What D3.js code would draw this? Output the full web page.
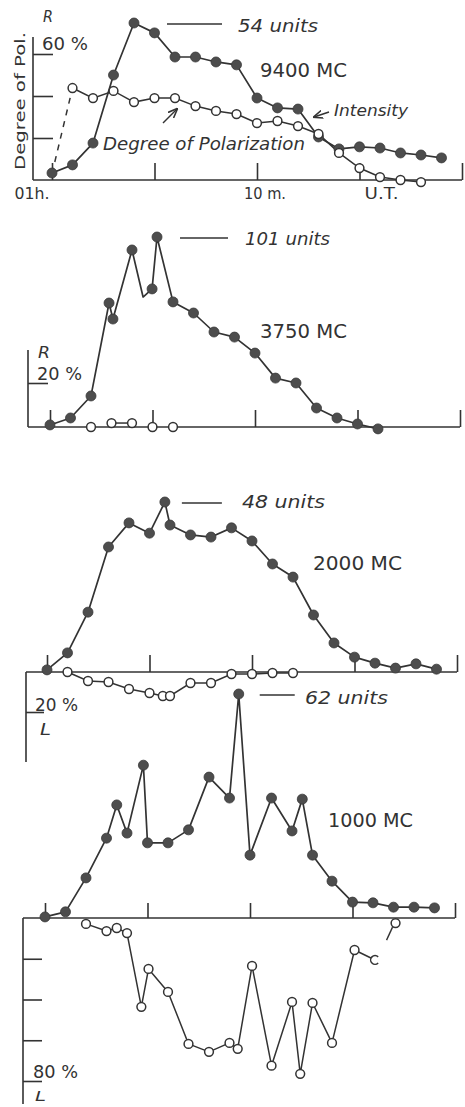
<!DOCTYPE html>
<html><head><meta charset="utf-8">
<script src="https://cdn.jsdelivr.net/npm/d3@7/dist/d3.min.js"></script>
<style>html,body{margin:0;padding:0;background:#fff;} svg{display:block;}</style>
</head><body>
<script>
// ---------- DATA ----------
const timeTicks = [0, 5, 10, 15, 20];              // minutes after 01h UT
const xTickLabels = ["01h.", "10 m.", "U.T."];
const xTickLabelTimes = [0, 10, 15];

// 9400 MC
const t9400I = [0,1,2,3,4,5,6,7,8,9,10,11,12,13,14,15,16,17,18,19];
const v9400I = [2.4,5.2,12.7,36.1,54,50.6,42.3,42.3,40.6,39.6,28.2,24.8,24.4,14.8,10.7,11.4,11.0,9.3,8.6,7.6];
const t9400P = [0,1,2,3,4,5,6,7,8,9,10,11,12,13,14,15,16,17,18];
const v9400P = [3,43.8,39.0,42.4,37.1,39.0,39.0,35.2,32.9,31.4,27.1,28.1,25.7,21.9,12.9,5.7,1.4,0,-1.0];

// 3750 MC
const t3750I = [0,1,2,2.88,3.07,4,4.54,4.98,5.22,6,7,8,9,10,11,12,13,14,15,16];
const v3750I = [1.1,4.8,16.5,65.9,57.4,94.1,69.1,73.4,101,66.5,60.6,50.5,47.8,39.3,26.0,23.4,10.1,4.8,1.6,-1.0];
const t3750NoDot = [4.54];
const t3750P = [2,3,4,5,6];
const v3750P = [0,1.8,1.8,0,0];
const p3750Links = [[3,4]];

// 2000 MC
const t2000I = [0,1,2,3,4,5,5.75,6,7,8,9,10,11,12,13,14,15,16,17,18,19];
const v2000I = [0.6,5.4,16.9,35.3,42.1,39.2,48,41.5,38.7,38.1,40.7,37.0,30.5,26.8,16.1,8.2,4.2,2.5,1.1,2.3,0.8];
const t2000P = [1,2,3,4,5,5.65,6,7,8,9,10,11,12];
const v2000P = [0,-4.5,-5,-8.5,-10.5,-12,-12,-5.5,-5.5,-1,-1,-0.5,-0.5];

// 1000 MC
const t1000I = [0,1,2,3,3.5,4,4.8,5,6,7,8,9,9.45,10,11.05,12.05,12.55,13.05,14,15,16,17,18,19];
const v1000I = [0.3,1.7,11.1,22.1,31.3,23.5,42.3,20.8,20.8,24.4,39.0,33.2,62,17.4,33.2,24.1,32.9,17.4,10.2,4.4,4.2,3.0,3.0,2.8];
const t1000P = [2,3,3.5,4,4.7,5.05,6,7,8,9,9.4,10.1,11.05,12.05,12.45,13.05,14,15.1,16.1];
const v1000P = [-2.9,-6.4,-4.9,-7.4,-43.6,-25,-36.3,-61.8,-65.7,-61.3,-64.2,-23.5,-72.5,-41.2,-76.5,-41.7,-61.3,-15.7,-20.6];
const t1000Pextra = [17.1];
const v1000Pextra = [-2.5];

const peakUnits = [54, 101, 48, 62];
const freqLabels = ["9400 MC", "3750 MC", "2000 MC", "1000 MC"];

// ---------- DRAWING ----------
const W = 465, H = 1107;
const ink = "#333";
const dotFill = "#4d4d4d";
const FONT = "DejaVu Sans, Liberation Sans, sans-serif";

const svg = d3.select("body").append("svg").attr("width", W).attr("height", H);
svg.append("rect").attr("width", W).attr("height", H).attr("fill", "#fff");

const defs = svg.append("defs");
defs.append("marker").attr("id","arr").attr("viewBox","0 0 10 10").attr("refX",9).attr("refY",5)
  .attr("markerWidth",7).attr("markerHeight",7).attr("orient","auto-start-reverse")
  .append("path").attr("d","M0,1 L10,5 L0,9").attr("fill","none").attr("stroke",ink).attr("stroke-width",1.6);

function txt(s, x, y, size, len, italic, g) {
  const t = (g || svg).append("text").attr("x", x).attr("y", y).text(s)
    .attr("font-family", FONT).attr("font-size", size).attr("fill", ink);
  if (len) t.attr("textLength", len).attr("lengthAdjust", "spacingAndGlyphs");
  if (italic) t.attr("font-style", "italic");
  return t;
}

const lineGen = (x, y) => d3.line().x(d => x(d[0])).y(d => y(d[1]));

function panel(cfg) {
  const g = svg.append("g");
  const x = d3.scaleLinear().domain([0, 20]).range([cfg.x0, cfg.x0 + 410]);
  const yI = d3.scaleLinear().domain([0, cfg.peak]).range([cfg.base, cfg.peakY]);
  const yP = d3.scaleLinear().domain([0, cfg.pRef]).range([cfg.base, cfg.base - cfg.pPix]);

  g.append("line").attr("x1", cfg.axisX).attr("x2", x(20)).attr("y1", cfg.base).attr("y2", cfg.base)
    .attr("stroke", ink).attr("stroke-width", 1.6);
  const ax = d3.axisTop(x).tickValues(timeTicks).tickSize(cfg.tickLen).tickFormat("");
  const axg = g.append("g").attr("transform", `translate(0,${cfg.base})`).call(ax);
  axg.select(".domain").remove();
  axg.selectAll("line").attr("stroke", ink).attr("stroke-width", 1.6);

  g.append("line").attr("x1", cfg.axisX).attr("x2", cfg.axisX).attr("y1", cfg.yAxisTop).attr("y2", cfg.yAxisBot)
    .attr("stroke", ink).attr("stroke-width", 1.6);
  const ay = d3.axisRight(yP).tickValues(cfg.pTicks).tickSize(cfg.yTickLen).tickFormat("");
  const ayg = g.append("g").attr("transform", `translate(${cfg.axisX},0)`).call(ay);
  ayg.select(".domain").remove();
  ayg.selectAll("line").attr("stroke", ink).attr("stroke-width", 1.6);

  return { g, x, yI, yP };
}

function intensity(p, ts, vs, noDot) {
  const data = ts.map((t, i) => [t, vs[i]]);
  p.g.append("path").attr("d", lineGen(p.x, p.yI)(data)).attr("fill", "none")
    .attr("stroke", ink).attr("stroke-width", 1.7).attr("stroke-linejoin", "round");
  p.g.selectAll(null).data(data.filter(d => !(noDot || []).includes(d[0]))).enter().append("circle")
    .attr("cx", d => p.x(d[0])).attr("cy", d => p.yI(d[1])).attr("r", 5)
    .attr("fill", dotFill).attr("stroke", "#3a3a3a").attr("stroke-width", 0.8);
}

function openDots(p, data) {
  p.g.selectAll(null).data(data).enter().append("circle")
    .attr("cx", d => p.x(d[0])).attr("cy", d => p.yP(d[1])).attr("r", 4.4)
    .attr("fill", "#fff").attr("stroke", ink).attr("stroke-width", 1.5);
}

function unitsMark(p, t, v, dx1, dx2, label, tx, tyOff, len) {
  const y = p.yI(v);
  p.g.append("line").attr("x1", p.x(t) + dx1).attr("x2", p.x(t) + dx2).attr("y1", y + 1).attr("y2", y + 1)
    .attr("stroke", ink).attr("stroke-width", 1.5);
  txt(label, tx, y + tyOff, 18, len, true, p.g);
}

// ===== Panel 1: 9400 MC =====
const p1 = panel({x0: 52, axisX: 33, base: 180, peak: peakUnits[0], peakY: 23, pRef: 60, pPix: 126,
  pTicks: [20, 40, 60], tickLen: 17, yAxisTop: 37, yAxisBot: 180, yTickLen: 20});
{
  const pd = t9400P.map((t, i) => [t, v9400P[i]]);
  p1.g.append("path").attr("d", lineGen(p1.x, p1.yP)(pd.slice(0, 2))).attr("fill", "none")
    .attr("stroke", ink).attr("stroke-width", 1.5).attr("stroke-dasharray", "6,6");
  p1.g.append("path").attr("d", lineGen(p1.x, p1.yP)(pd.slice(1))).attr("fill", "none")
    .attr("stroke", ink).attr("stroke-width", 1.5);
  intensity(p1, t9400I, v9400I);
  openDots(p1, pd.slice(1));
  unitsMark(p1, 4, 54, 33, 88, "54 units", 238, 9, 80);
  txt(freqLabels[0], 260, 77, 19, 87, false);
  txt("R", 43, 22, 15, 10, true);
  txt("60 %", 42, 50, 17, 46, false);
  txt("Intensity", 334, 116, 16, 74, true);
  svg.append("line").attr("x1", 329).attr("y1", 112).attr("x2", 314).attr("y2", 117)
    .attr("stroke", ink).attr("stroke-width", 1.4).attr("marker-end", "url(#arr)");
  txt("Degree of Polarization", 103, 150, 17, 202, true);
  svg.append("line").attr("x1", 163).attr("y1", 123).attr("x2", 177).attr("y2", 109)
    .attr("stroke", ink).attr("stroke-width", 1.4).attr("marker-end", "url(#arr)");
  const lblOff = [-20, 8, 22];
  xTickLabels.forEach((s, i) => {
    txt(s, p1.x(xTickLabelTimes[i]) + lblOff[i], 199, 15, [35, 42, 34][i], false).attr("text-anchor", "middle");
  });
  txt("Degree of Pol.", 0, 0, 14, 138, false)
    .attr("text-anchor", "middle").attr("transform", "translate(25,101) rotate(-90)");
}

// ===== Panel 2: 3750 MC =====
const p2 = panel({x0: 50, axisX: 28, base: 427, peak: peakUnits[1], peakY: 237, pRef: 20, pPix: 44,
  pTicks: [20], tickLen: 17, yAxisTop: 350, yAxisBot: 427, yTickLen: 20});
{
  const pd = t3750P.map((t, i) => [t, v3750P[i]]);
  p3750Links.forEach(([a, b]) => {
    const seg = pd.filter(d => d[0] >= a && d[0] <= b);
    p2.g.append("path").attr("d", lineGen(p2.x, p2.yP)(seg)).attr("fill", "none")
      .attr("stroke", ink).attr("stroke-width", 1.5);
  });
  intensity(p2, t3750I, v3750I, t3750NoDot);
  openDots(p2, pd);
  unitsMark(p2, 5.22, 101, 23, 71, "101 units", 245, 8, 85);
  txt(freqLabels[1], 260, 338, 19, 87, false);
  txt("R", 38, 358, 15, 12, true);
  txt("20 %", 37, 380, 17, 45, false);
}

// ===== Panel 3: 2000 MC =====
const p3 = panel({x0: 47, axisX: 26, base: 672, peak: peakUnits[2], peakY: 502, pRef: 20, pPix: 40,
  pTicks: [-20], tickLen: 17, yAxisTop: 672, yAxisBot: 762, yTickLen: 18});
{
  const pd = t2000P.map((t, i) => [t, v2000P[i]]);
  p3.g.append("path").attr("d", lineGen(p3.x, p3.yP)(pd)).attr("fill", "none")
    .attr("stroke", ink).attr("stroke-width", 1.5);
  intensity(p3, t2000I, v2000I);
  openDots(p3, pd);
  unitsMark(p3, 5.75, 48, 17, 57, "48 units", 242, 6, 83);
  txt(freqLabels[2], 313, 570, 19, 89, false);
  txt("20 %", 35, 711, 17, 43, false);
  txt("L", 40, 735, 16, 11, true);
}

// ===== Panel 4: 1000 MC =====
const p4 = panel({x0: 45, axisX: 23, base: 918, peak: peakUnits[3], peakY: 694, pRef: 80, pPix: 163,
  pTicks: [-20, -40, -60, -80], tickLen: 15, yAxisTop: 918, yAxisBot: 1104, yTickLen: 19});
{
  const pd = t1000P.map((t, i) => [t, v1000P[i]]);
  p4.g.append("path").attr("d", lineGen(p4.x, p4.yP)(pd)).attr("fill", "none")
    .attr("stroke", ink).attr("stroke-width", 1.5).attr("stroke-linejoin", "round");
  intensity(p4, t1000I, v1000I);
  openDots(p4, pd.slice(0, -1));
  const last = pd[pd.length - 1];
  const cp = d3.path();
  const cx = p4.x(last[0]), cy = p4.yP(last[1]);
  cp.moveTo(cx + 4.4 * Math.cos(-Math.PI / 4), cy + 4.4 * Math.sin(-Math.PI / 4));
  cp.arc(cx, cy, 4.4, -Math.PI / 4, Math.PI / 4, true);
  p4.g.append("path").attr("d", cp.toString()).attr("fill", "#fff").attr("stroke", ink).attr("stroke-width", 1.5);
  const ex = t1000Pextra.map((t, i) => [t, v1000Pextra[i]]);
  ex.forEach(d => {
    const px = p4.x(d[0]), py = p4.yP(d[1]);
    p4.g.append("line").attr("x1", px - 3).attr("y1", py + 4).attr("x2", px - 9).attr("y2", py + 17)
      .attr("stroke", ink).attr("stroke-width", 1.4);
  });
  openDots(p4, ex);
  unitsMark(p4, 9.45, 62, 21, 56, "62 units", 305, 10, 83);
  txt(freqLabels[3], 328, 827, 19, 85, false);
  txt("80 %", 33, 1078, 17, 45, false);
  txt("L", 35, 1101, 14, 11, true);
}
</script>
</body></html>
